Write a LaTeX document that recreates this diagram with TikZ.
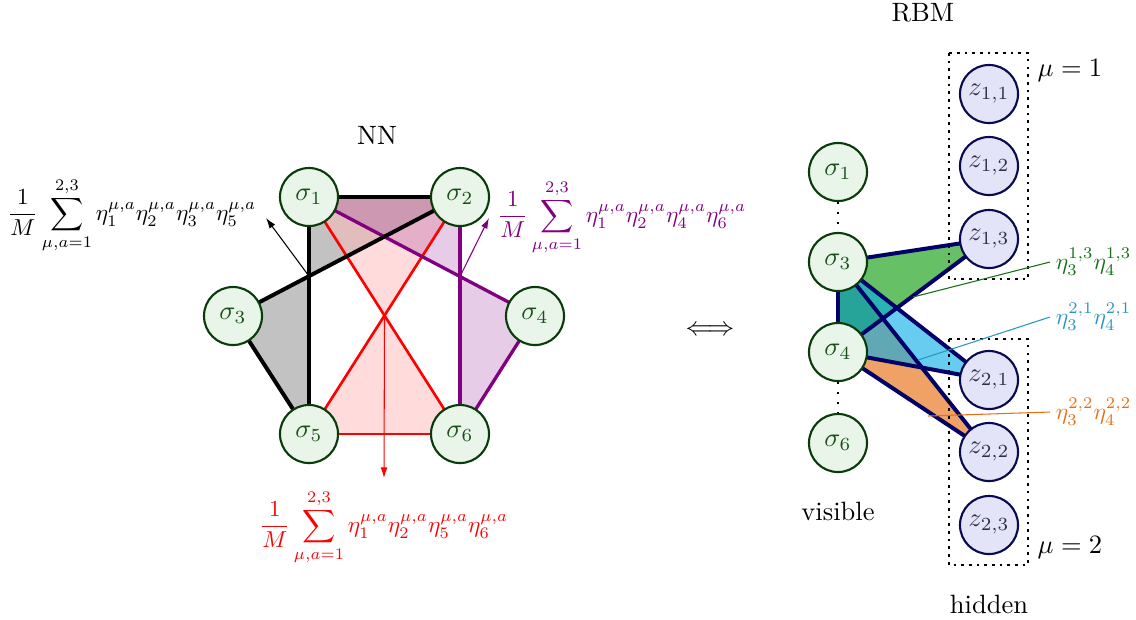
\documentclass[tikz,border=0pt]{standalone}
\usetikzlibrary{arrows.meta,backgrounds}
\definecolor{ngfill}{RGB}{233,245,233}
\definecolor{ngdraw}{RGB}{10,60,10}
\definecolor{ngtext}{RGB}{25,80,25}
\definecolor{zfill}{RGB}{228,228,248}
\definecolor{zdraw}{RGB}{10,10,80}
\definecolor{ztext}{RGB}{45,45,75}
\definecolor{navyline}{RGB}{0,0,105}
\definecolor{purp}{RGB}{128,0,128}
\definecolor{gfill}{RGB}{0,150,0}
\definecolor{bfill}{RGB}{0,172,230}
\definecolor{ofill}{RGB}{230,100,0}
\definecolor{glab}{RGB}{20,110,20}
\definecolor{blab}{RGB}{40,150,190}
\definecolor{olab}{RGB}{235,110,20}
\begin{document}
\begin{tikzpicture}[x=0.3774pt,y=-0.3774pt,
  vis/.style={circle,draw=ngdraw,fill=ngfill,line width=0.8pt,minimum size=21.9pt,inner sep=0pt,text=ngtext},
  hid/.style={circle,draw=zdraw,fill=zfill,line width=0.8pt,minimum size=21.9pt,inner sep=0pt,text=ztext},
  blackedge/.style={line width=1.5pt,black},
  purpedge/.style={line width=1.25pt,purp},
  rededge/.style={line width=1pt,red},
  navyedge/.style={line width=1.5pt,navyline},
  pointer/.style={line width=0.4pt,-{Latex[length=4pt,width=2.6pt]}},
  annot/.style={line width=0.4pt},
  mathlabel/.style={inner sep=1pt},
  dotbox/.style={line width=1pt,dash pattern=on 1pt off 1.9pt},
  vdots/.style={line width=0.8pt,dash pattern=on 0.8pt off 3pt}]
\useasboundingbox (0,0) rectangle (1136,619);

% ---------- NN (left) ----------
\node[vis] (s1) at (309,197) {$\sigma_1$};
\node[vis] (s2) at (460,197) {$\sigma_2$};
\node[vis] (s3) at (233,316) {$\sigma_3$};
\node[vis] (s4) at (535,316) {$\sigma_4$};
\node[vis] (s5) at (309,434) {$\sigma_5$};
\node[vis] (s6) at (460,434) {$\sigma_6$};
\node (nn) at (377,135) {NN};

\coordinate (xg) at (intersection of s1.center--s5.center and s2.center--s3.center);
\coordinate (xp) at (intersection of s1.center--s4.center and s2.center--s6.center);
\coordinate (xr) at (intersection of s1.center--s6.center and s2.center--s5.center);

\begin{scope}[on background layer]
  \fill[black,opacity=0.24] (s1.center)--(s2.center)--(s3.center)--(s5.center)--cycle;
  \fill[red!28,opacity=0.5] (s1.center)--(s6.center)--(s5.center)--(s2.center)--cycle;
  \fill[purp,opacity=0.2] (s1.center)--(s4.center)--(s6.center)--(s2.center)--cycle;
  \draw[rededge] (s1.center)--(s6.center);
  \draw[rededge] (s2.center)--(s5.center);
  \draw[rededge] (s5.center)--(s6.center);
  \draw[purpedge] (s1.center)--(s4.center);
  \draw[purpedge] (s4.center)--(s6.center);
  \draw[purpedge] (s2.center)--(s6.center);
  \draw[blackedge] (s1.center)--(s2.center);
  \draw[blackedge] (s2.center)--(s3.center);
  \draw[blackedge] (s3.center)--(s5.center);
  \draw[blackedge] (s1.center)--(s5.center);
\end{scope}

\node[mathlabel] (lblk) at (132,215) {\scalebox{0.87}{$\displaystyle\frac{1}{M}\sum_{\mu,a=1}^{2,3}\eta_1^{\mu,a}\eta_2^{\mu,a}\eta_3^{\mu,a}\eta_5^{\mu,a}$}};
\node[mathlabel,text=purp] (lpur) at (622,217) {\scalebox{0.87}{$\displaystyle\frac{1}{M}\sum_{\mu,a=1}^{2,3}\eta_1^{\mu,a}\eta_2^{\mu,a}\eta_4^{\mu,a}\eta_6^{\mu,a}$}};
\node[mathlabel,text=red] (lred) at (384,527) {\scalebox{0.87}{$\displaystyle\frac{1}{M}\sum_{\mu,a=1}^{2,3}\eta_1^{\mu,a}\eta_2^{\mu,a}\eta_5^{\mu,a}\eta_6^{\mu,a}$}};

\coordinate (tblk) at (266,218);
\coordinate (tpur) at (489,218);
\coordinate (tred) at (384,478);
\draw[pointer,black] (xg) -- (tblk);
\draw[pointer,purp] (xp) -- (tpur);
\draw[pointer,red] (xr) -- (tred);

% ---------- equivalence ----------
\node (eq) at (710,331) {$\Longleftrightarrow$};

% ---------- RBM (right) ----------
\node (rbm) at (923,13) {RBM};
\node[vis] (r1) at (838,172) {$\sigma_1$};
\node[vis] (r3) at (838,262) {$\sigma_3$};
\node[vis] (r4) at (838,352) {$\sigma_4$};
\node[vis] (r6) at (838,443) {$\sigma_6$};
\node[hid] (z11) at (989,94) {$z_{1,1}$};
\node[hid] (z12) at (989,166) {$z_{1,2}$};
\node[hid] (z13) at (989,239) {$z_{1,3}$};
\node[hid] (z21) at (989,380) {$z_{2,1}$};
\node[hid] (z22) at (989,452) {$z_{2,2}$};
\node[hid] (z23) at (989,525) {$z_{2,3}$};

\draw[vdots] (r1.south) -- (r3.north);
\draw[vdots] (r4.south) -- (r6.north);

\draw[dotbox] (949,53) rectangle (1028,279);
\draw[dotbox] (949,339) rectangle (1028,565);
\node (mu1) at (1070,71) {$\mu=1$};
\node (mu2) at (1070,548) {$\mu=2$};
\node (visl) at (838,511) {visible};
\node (hidl) at (989,604) {hidden};

\begin{scope}[on background layer]
  \fill[ofill,opacity=0.6] (r3.center)--(z22.center)--(r4.center)--cycle;
  \fill[gfill,opacity=0.6] (r3.center)--(z13.center)--(r4.center)--cycle;
  \fill[bfill,opacity=0.6] (r3.center)--(z21.center)--(r4.center)--cycle;
  \draw[navyedge] (r3.center)--(r4.center);
  \draw[navyedge] (r3.center)--(z13.center);
  \draw[navyedge] (r4.center)--(z13.center);
  \draw[navyedge] (r3.center)--(z21.center);
  \draw[navyedge] (r4.center)--(z21.center);
  \draw[navyedge] (r3.center)--(z22.center);
  \draw[navyedge] (r4.center)--(z22.center);
\end{scope}

\node[anchor=west,text=glab,inner sep=2pt] (lg) at (1050,262) {\scalebox{0.88}{$\eta_3^{1,3}\eta_4^{1,3}$}};
\node[anchor=west,text=blab,inner sep=2pt] (lb) at (1050,317) {\scalebox{0.88}{$\eta_3^{2,1}\eta_4^{2,1}$}};
\node[anchor=west,text=olab,inner sep=2pt] (lo) at (1050,412) {\scalebox{0.88}{$\eta_3^{2,2}\eta_4^{2,2}$}};
\coordinate (pg) at (913,297);
\coordinate (pb) at (918,360);
\coordinate (po) at (928,416);
\draw[annot,glab] (pg) -- (lg.west);
\draw[annot,blab] (pb) -- (lb.west);
\draw[annot,olab] (po) -- (lo.west);
\end{tikzpicture}
\end{document}
